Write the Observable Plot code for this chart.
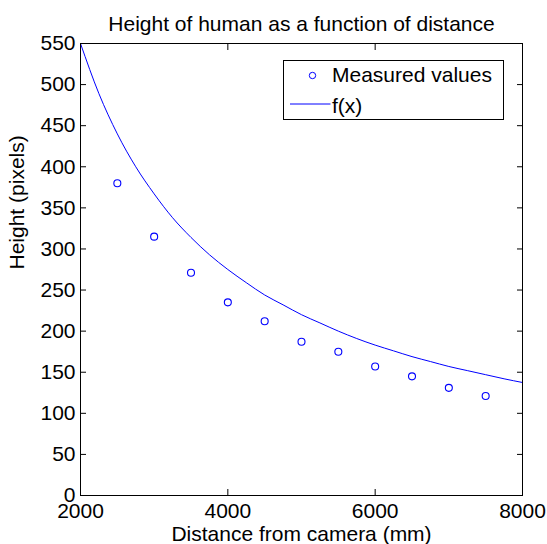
<!DOCTYPE html>
<html>
<head>
<meta charset="utf-8">
<script src="https://cdn.jsdelivr.net/npm/d3@7"></script>
<script src="https://cdn.jsdelivr.net/npm/@observablehq/plot@0.6"></script>
<style>
  html, body { margin: 0; padding: 0; background: #fff; }
  #chart { position: relative; width: 547px; height: 544px; }
</style>
</head>
<body>
<div id="chart"></div>
<script>
// Measured values (distance in mm, height in pixels)
const measuredDistance = [2500, 3000, 3500, 4000, 4500, 5000, 5500, 6000, 6500, 7000, 7500];
const measuredHeight   = [380, 315, 271, 235, 212, 187, 175, 157, 145, 131, 121];

// f(x) curve
const curveDistance = [2000, 2250, 2500, 2750, 3000, 3250, 3500, 3750, 4000, 4250, 4500, 4750, 5000,
                       5250, 5500, 5750, 6000, 6250, 6500, 6750, 7000, 7250, 7500, 7750, 8000];
const curveHeight   = [550, 489, 440, 400, 367, 338, 314, 293, 275, 259, 244, 232, 220,
                       210, 200, 191, 183, 176, 169, 163, 157, 152, 147, 142, 137.5];

const xTicks = [2000, 4000, 6000, 8000];
const yTicks = [0, 50, 100, 150, 200, 250, 300, 350, 400, 450, 500, 550];

const titleText = "Height of human as a function of distance";
const xLabel = "Distance from camera (mm)";
const yLabel = "Height (pixels)";
const legendLabels = ["Measured values", "f(x)"];

const measured = measuredDistance.map((d, i) => ({x: d, y: measuredHeight[i]}));
const curve = curveDistance.map((d, i) => ({x: d, y: curveHeight[i]}));

const FONT = "'Liberation Sans', Arial, Helvetica, sans-serif";

const plot = Plot.plot({
  width: 547,
  height: 544,
  marginLeft: 80,
  marginRight: 25,
  marginTop: 43,
  marginBottom: 49,
  style: {fontFamily: FONT, fontSize: "21px", color: "#000", background: "#fff", overflow: "visible"},
  x: {domain: [2000, 8000]},
  y: {domain: [0, 550]},
  marks: [
    Plot.line(curve, {x: "x", y: "y", stroke: "#0000ff", strokeWidth: 1, curve: "monotone-x"}),
    Plot.dot(measured, {x: "x", y: "y", r: 3.5, stroke: "#0000ff", fill: "none", strokeWidth: 1.1}),
    Plot.frame({stroke: "#000", strokeWidth: 1}),
    Plot.axisX({ticks: xTicks, tickSize: -6, tickPadding: 14, label: null, tickFormat: d => String(d)}),
    Plot.axisX({anchor: "top", ticks: xTicks, tickSize: -6, label: null, tickFormat: () => ""}),
    Plot.axisY({ticks: yTicks, tickSize: -6, tickPadding: 11, label: null, tickFormat: d => String(d)}),
    Plot.axisY({anchor: "right", ticks: yTicks, tickSize: -6, label: null, tickFormat: () => ""}),
    Plot.text([titleText], {frameAnchor: "top", lineAnchor: "bottom", dy: -13, fontSize: 21}),
    Plot.text([xLabel], {frameAnchor: "bottom", lineAnchor: "bottom", dy: 45, fontSize: 21}),
    Plot.text([yLabel], {frameAnchor: "left", lineAnchor: "bottom", rotate: -90, dx: -57, fontSize: 21})
  ]
});

document.getElementById("chart").appendChild(plot);

// Legend box (drawn in pixel space inside the plot's SVG)
const svg = d3.select(plot);
const lg = svg.append("g").attr("transform", "translate(283.5,60.5)")
  .attr("text-anchor", "start")
  .style("font-family", FONT).style("font-size", "21px");
lg.append("rect").attr("width", 220).attr("height", 59).attr("fill", "#fff").attr("stroke", "#000");
lg.append("circle").attr("cx", 29).attr("cy", 15).attr("r", 3.2).attr("fill", "none").attr("stroke", "#0000ff");
lg.append("text").attr("x", 48.5).attr("y", 21.5).attr("text-anchor", "start").text(legendLabels[0]);
lg.append("line").attr("x1", 6.5).attr("x2", 47).attr("y1", 43.5).attr("y2", 43.5).attr("stroke", "#0000ff");
lg.append("text").attr("x", 48.5).attr("y", 52).attr("text-anchor", "start").text(legendLabels[1]);
</script>
</body>
</html>
